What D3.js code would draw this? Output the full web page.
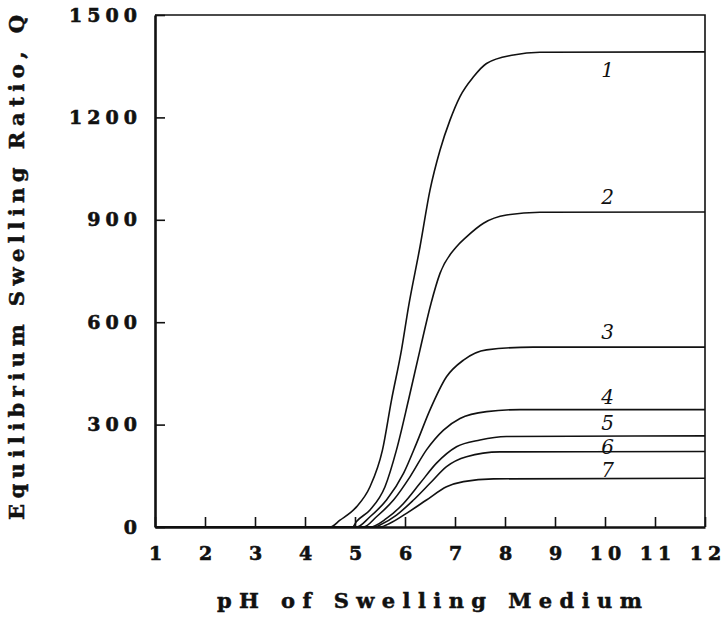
<!DOCTYPE html>
<html>
<head>
<meta charset="utf-8">
<script src="https://cdn.jsdelivr.net/npm/d3@7"></script>
<style>
body{margin:0;background:#fff;}
svg{display:block;}
.tick text{font-family:"DejaVu Serif",serif;font-weight:bold;font-size:19px;fill:#111;stroke:#111;stroke-width:0.6px;letter-spacing:5px;}
</style>
</head>
<body>
<svg class="chart"></svg>
<script>
// pH / Q pairs, one array per curve
var curve1 = [[1,0],[4.5,0],[4.7,20],[5.03,59],[5.3,118],[5.55,226],[5.73,372],[5.93,519],[6.07,645],[6.3,821],[6.5,987],[6.7,1104],[6.9,1192],[7.1,1261],[7.37,1319],[7.63,1358],[8.17,1383],[8.7,1391],[12,1392]];
var curve2 = [[1,0],[4.95,0],[5.03,16],[5.3,50],[5.6,118],[5.83,226],[6.07,372],[6.3,519],[6.52,655],[6.7,743],[7.03,821],[7.23,850],[7.57,890],[8.03,914],[8.7,922],[12,923]];
var curve3 = [[1,0],[5.03,0],[5.3,30],[5.63,79],[5.97,157],[6.23,245],[6.5,343],[6.83,440],[7.17,489],[7.63,519],[8.56,527],[12,527]];
var curve4 = [[1,0],[5.17,0],[5.43,30],[5.77,79],[6.1,147],[6.43,226],[6.77,284],[7.1,318],[7.63,338],[8.3,344],[12,344]];
var curve5 = [[1,0],[5.3,0],[5.63,25],[5.97,69],[6.3,128],[6.63,187],[7.03,235],[7.5,255],[8.03,265],[12,267]];
var curve6 = [[1,0],[5.4,0],[5.5,6],[5.83,35],[6.17,79],[6.5,128],[6.83,177],[7.23,206],[7.9,220],[12,221]];
var curve7 = [[1,0],[5.5,0],[5.7,11],[6.03,40],[6.43,79],[6.83,118],[7.17,133],[7.77,141],[12,143]];
var curveNames = ["1","2","3","4","5","6","7"];
var labelPos = [[10.05,1339],[10.05,967],[10.05,571],[10.05,381],[10.05,305],[10.05,234],[10.05,167]];
var xTicks = [1,2,3,4,5,6,7,8,9,10,11,12];
var yTicks = [0,300,600,900,1200,1500];

var margin = {top: 15, right: 23, bottom: 92, left: 155},
	width = 728 - margin.left - margin.right,
	height = 619 - margin.top - margin.bottom;

var svg = d3.select('.chart').attr('width',728).attr('height',619);
var chart = svg.append('g').attr('transform','translate(' + margin.left + ',' + margin.top + ')');

var x = d3.scaleLinear().domain([1,12]).range([0,width]);
var y = d3.scaleLinear().domain([0,1500]).range([height,0]);

var xAxis = d3.axisBottom(x).tickValues(xTicks).tickFormat(d3.format('d')).tickSizeInner(-10).tickSizeOuter(0);
var yAxis = d3.axisLeft(y).tickValues(yTicks).tickFormat(d3.format('d')).tickSizeInner(-10).tickSizeOuter(0);

// frame top + right
chart.append('path')
	.attr('d','M0,0H' + width + 'V' + height)
	.attr('fill','none').attr('stroke','#111').attr('stroke-width',1.6);

var gx = chart.append('g').attr('transform','translate(0,' + height + ')').call(xAxis);
var gy = chart.append('g').call(yAxis);
gx.select('.domain').attr('stroke','#111').attr('stroke-width',2.6);
gy.select('.domain').attr('stroke','#111').attr('stroke-width',2.6);
gx.selectAll('.tick line').attr('stroke','#111').attr('stroke-width',1.6);
gy.selectAll('.tick line').attr('stroke','#111').attr('stroke-width',1.6);
gx.selectAll('.tick text').attr('dy','0.71em').attr('y',20).attr('dx',2.5);
gy.selectAll('.tick text').attr('x',-13);

var line = d3.line()
	.x(function(d){ return x(d[0]); })
	.y(function(d){ return y(d[1]); })
	.curve(d3.curveMonotoneX);

var curves = [curve1,curve2,curve3,curve4,curve5,curve6,curve7];
chart.selectAll('.curve')
	.data(curves)
	.enter()
	.append('path')
	.attr('class','curve')
	.attr('fill','none')
	.attr('stroke','#111')
	.attr('stroke-width',1.6)
	.attr('stroke-linejoin','round')
	.attr('d',line);

chart.selectAll('.clabel')
	.data(curveNames)
	.enter()
	.append('text')
	.attr('class','clabel')
	.attr('x',function(d,i){ return x(labelPos[i][0]); })
	.attr('y',function(d,i){ return y(labelPos[i][1]); })
	.attr('dy','0.35em')
	.attr('text-anchor','middle')
	.attr('font-family','"DejaVu Serif",serif')
	.attr('font-style','italic')
	.attr('font-size','20px')
	.attr('fill','#111')
	.text(function(d){ return d; });

// axis titles
svg.append('text')
	.attr('x',217).attr('y',608)
	.attr('textLength',425).attr('lengthAdjust','spacing')
	.attr('font-family','"DejaVu Serif",serif')
	.attr('font-weight','bold')
	.attr('font-size','21px')
	.attr('fill','#111').attr('stroke','#111').attr('stroke-width',0.5)
	.text('pH of Swelling Medium');

svg.append('text')
	.attr('transform','translate(24,520) rotate(-90)')
	.attr('textLength',505).attr('lengthAdjust','spacing')
	.attr('font-family','"DejaVu Serif",serif')
	.attr('font-weight','bold')
	.attr('font-size','21px')
	.attr('fill','#111').attr('stroke','#111').attr('stroke-width',0.5)
	.text('Equilibrium Swelling Ratio, Q');
</script>
</body>
</html>
